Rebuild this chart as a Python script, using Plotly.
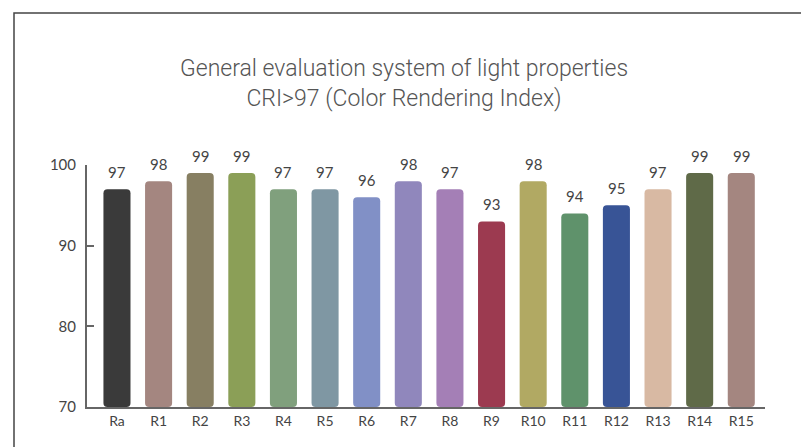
import plotly.graph_objects as go

categories = ["Ra", "R1", "R2", "R3", "R4", "R5", "R6", "R7", "R8", "R9", "R10", "R11", "R12", "R13", "R14", "R15"]
values = [97, 98, 99, 99, 97, 97, 96, 98, 97, 93, 98, 94, 95, 97, 99, 99]
colors = ["#3a3a3a", "#a48680", "#877f62", "#8b9f57", "#80a07d", "#7f97a3", "#8190c6", "#9087bc",
          "#a47fb6", "#9c3a50", "#b1a963", "#5f926b", "#385496", "#d8b9a3", "#5f6a48", "#a48680"]
y_ticks = [70, 80, 90, 100]
title_lines = ["General evaluation system of light properties", "CRI>97 (Color Rendering Index)"]

base_val = 70
OFF = 8  # page body margin
W, H = 809 - OFF, 447 - OFF
# target pixel geometry in the window
PL, PR, PT, PB = 87, 765, 165, 407
L, T = PL - OFF, PT - OFF
R = (W + OFF) - PR
B = (H + OFF) - PB
pw, ph = PR - PL, PB - PT

xs = list(range(len(categories)))
fig = go.Figure(go.Bar(
    x=xs,
    y=[v - base_val for v in values],
    base=base_val,
    marker=dict(color=colors, line=dict(width=0), cornerradius=4),
    width=0.65,
    hovertemplate="%{customdata}<extra></extra>",
    customdata=values,
))

for xi, v in zip(xs, values):
    fig.add_annotation(x=xi, y=v, xref="x", yref="y", text=str(v), showarrow=False,
                       yanchor="bottom", yshift=6,
                       font=dict(family="Lato", size=15, color="#444444"))

def px_to_paper_x(px):
    return (px - PL) / pw

def px_to_paper_y(py):
    return (PB - py) / ph

fig.add_shape(type="rect", xref="paper", yref="paper",
              x0=px_to_paper_x(14), x1=px_to_paper_x(830),
              y0=px_to_paper_y(470), y1=px_to_paper_y(13),
              line=dict(color="#444444", width=1.5), layer="below")

fig.add_annotation(xref="paper", yref="paper", x=px_to_paper_x(404), y=px_to_paper_y(84),
                   text="<br>".join(title_lines), showarrow=False,
                   font=dict(family="Roboto", size=23, color="#555555", weight=300),
                   align="center", yanchor="middle", xanchor="center")

fig.update_layout(
    width=W, height=H,
    margin=dict(l=L, r=R, t=T, b=B, pad=0),
    paper_bgcolor="white", plot_bgcolor="white",
    showlegend=False,
    xaxis=dict(
        range=[-0.72, 15.57],
        tickvals=xs, ticktext=categories,
        showline=True, linecolor="#666666", linewidth=2,
        ticks="", showgrid=False, zeroline=False,
        tickfont=dict(family="Lato", size=14, color="#444444"),
    ),
    yaxis=dict(
        range=[70, 100],
        tickvals=y_ticks,
        showline=True, linecolor="#666666", linewidth=2,
        ticks="inside", ticklen=7, tickwidth=2, tickcolor="#666666",
        ticklabelstandoff=6,
        showgrid=False, zeroline=False,
        tickfont=dict(family="Lato", size=15, color="#444444"),
    ),
)

fig.write_html("out.html")
